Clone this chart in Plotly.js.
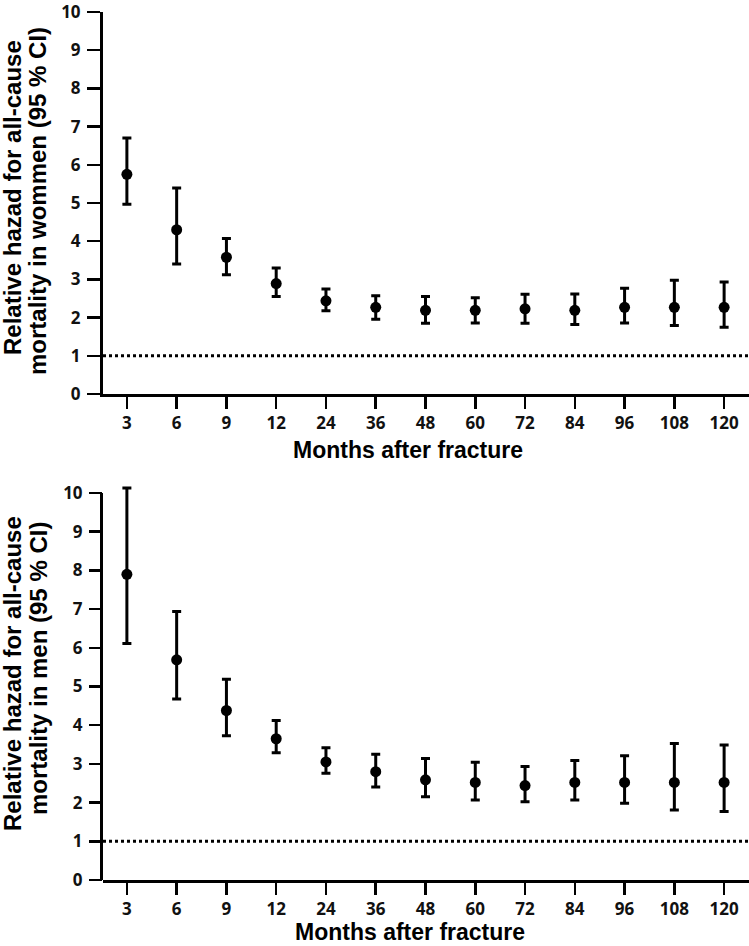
<!DOCTYPE html>
<html>
<head>
<meta charset="utf-8">
<script src="https://cdn.plot.ly/plotly-3.0.1.min.js"></script>
<style>html,body{margin:0;padding:0;background:#fff;}#chart{width:749px;height:946px;}</style>
</head>
<body>
<div id="chart"></div>
<script>
var months = ["3","6","9","12","24","36","48","60","72","84","96","108","120"];
var yTicks = [0,1,2,3,4,5,6,7,8,9,10];

var womenHR = [5.75, 4.30, 3.58, 2.89, 2.44, 2.27, 2.19, 2.19, 2.23, 2.19, 2.27, 2.27, 2.27];
var womenLo = [4.97, 3.40, 3.12, 2.55, 2.18, 1.96, 1.85, 1.86, 1.85, 1.82, 1.86, 1.79, 1.75];
var womenHi = [6.70, 5.39, 4.07, 3.30, 2.75, 2.57, 2.55, 2.52, 2.61, 2.62, 2.77, 2.98, 2.93];

var menHR = [7.90, 5.69, 4.38, 3.65, 3.05, 2.80, 2.59, 2.52, 2.44, 2.52, 2.52, 2.52, 2.52];
var menLo = [6.11, 4.68, 3.73, 3.29, 2.76, 2.40, 2.15, 2.07, 2.02, 2.07, 1.98, 1.81, 1.77];
var menHi = [10.13, 6.94, 5.19, 4.12, 3.42, 3.25, 3.14, 3.04, 2.93, 3.09, 3.21, 3.53, 3.49];

var refValue = 1;
var xTitle = "Months after fracture";
var yTitleLine1 = "Relative hazad for all-cause";
var yTitleWomen = "mortality in wommen (95 % CI)";
var yTitleMen = "mortality in men (95 % CI)";

function diff(a, b) { return a.map(function (v, i) { return v - b[i]; }); }

function trace(hr, lo, hi, xa, ya) {
  return {
    type: "scatter", mode: "markers", x: months, y: hr, xaxis: xa, yaxis: ya,
    cliponaxis: false,
    marker: {color: "#000", size: 11, symbol: "circle"},
    error_y: {type: "data", symmetric: false, array: diff(hi, hr), arrayminus: diff(hr, lo),
              color: "#000", thickness: 3, width: 4.5},
    showlegend: false, hoverinfo: "skip"
  };
}

var W = 749, H = 946;
function py(p) { return 1 - p / H; }
var pxPerUnit = (880 - 493) / 10;

var tickFont = {family: "Open Sans, sans-serif", size: 17, color: "#111", weight: 700};
function xax() {
  return {type: "category", domain: [103 / W, 1], range: [-0.48, 12.5], showline: true, linewidth: 3,
          linecolor: "#000", ticks: "outside", ticklen: 12, tickwidth: 2.5, tickcolor: "#000",
          showgrid: false, zeroline: false, tickfont: tickFont, fixedrange: true};
}
function yax(dom, anchor, top, showline) {
  return {domain: dom, range: [0, top], tickvals: yTicks, ticktext: yTicks.map(String), showline: showline,
          linewidth: 3, linecolor: "#000", ticks: "outside", ticklen: 13, tickwidth: 2.5,
          tickcolor: "#000", showgrid: false, zeroline: false, tickfont: tickFont, anchor: anchor,
          ticklabeloverflow: "allow", ticklabelstandoff: 3, fixedrange: true};
}

var titleFont = {family: "Liberation Sans, Arial, sans-serif", size: 23, color: "#000", weight: 700};
var yFont = {family: "Liberation Sans, Arial, sans-serif", size: 24, color: "#000", weight: 700};

function ann(text, x, y, font, angle) {
  return {text: text, xref: "paper", yref: "paper", x: x / W, y: py(y), xanchor: "center",
          yanchor: "middle", showarrow: false, font: font, textangle: angle || 0};
}

// bottom panel: a little headroom above 10 so the first interval is not clipped
var menTop = 10.2;
var menDomTop = 880 - menTop * pxPerUnit;

var layout = {
  width: W, height: H, margin: {l: 0, r: 0, t: 0, b: 0},
  paper_bgcolor: "#fff", plot_bgcolor: "#fff",
  xaxis: Object.assign(xax(), {anchor: "y"}),
  yaxis: yax([py(394), py(12)], "x", 10, true),
  xaxis2: Object.assign(xax(), {anchor: "y2"}),
  yaxis2: yax([py(880), py(menDomTop)], "x2", menTop, false),
  shapes: [
    {type: "line", xref: "x domain", yref: "y", x0: 0, x1: 1, y0: refValue, y1: refValue,
     line: {color: "#000", width: 3, dash: "dot"}},
    {type: "line", xref: "x2 domain", yref: "y2", x0: 0, x1: 1, y0: refValue, y1: refValue,
     line: {color: "#000", width: 3, dash: "dot"}},
    {type: "line", xref: "paper", yref: "y2", x0: 101.5 / W, x1: 101.5 / W, y0: -0.07, y1: 10,
     line: {color: "#000", width: 3}}
  ],
  annotations: [
    ann(xTitle, 408, 450, titleFont),
    ann(xTitle, 410, 932, titleFont),
    ann(yTitleLine1, 12, 198, yFont, -90),
    ann(yTitleWomen, 38, 201, yFont, -90),
    ann(yTitleLine1, 12, 674, yFont, -90),
    ann(yTitleMen, 38, 669, yFont, -90)
  ]
};

Plotly.newPlot("chart", [trace(womenHR, womenLo, womenHi, "x", "y"), trace(menHR, menLo, menHi, "x2", "y2")],
  layout, {staticPlot: true, displayModeBar: false});
</script>
</body>
</html>
